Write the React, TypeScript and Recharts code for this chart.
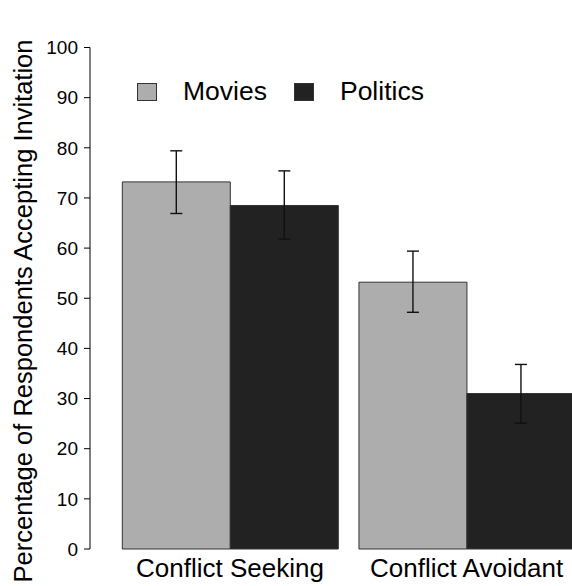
import React from 'react';
import { BarChart, Bar, XAxis, YAxis, ErrorBar, Legend, Label } from 'recharts';

const categories = ['Conflict Seeking', 'Conflict Avoidant'];
const moviesPct = [73.2, 53.2];
const politicsPct = [68.5, 31.0];
// [lower, upper] error around each bar
const moviesErr = [[6.3, 6.2], [6.0, 6.2]];
const politicsErr = [[6.7, 6.9], [5.9, 5.8]];
const yTicks = [0, 10, 20, 30, 40, 50, 60, 70, 80, 90, 100];

const FONT = '"Liberation Sans", Arial, Helvetica, sans-serif';
const MOVIES_FILL = '#adadad';
const POLITICS_FILL = '#222222';

const data = categories.map((name, i) => ({
    name,
    movies: moviesPct[i],
    politics: politicsPct[i],
    moviesErr: moviesErr[i],
    politicsErr: politicsErr[i],
}));

const renderLegend = (props: any) => {
    const payload = props.payload || [];
    return (
        <div style={{ display: 'flex', alignItems: 'center', fontFamily: FONT, fontSize: 26.5, color: '#000' }}>
            {payload.map((p: any, i: number) => (
                <div key={i} style={{ display: 'flex', alignItems: 'center', marginRight: i === 0 ? 27 : 0 }}>
                    <span
                        style={{
                            display: 'inline-block',
                            width: 18,
                            height: 16,
                            background: p.color,
                            border: '1px solid #333',
                            marginRight: 26,
                        }}
                    />
                    <span>{p.value}</span>
                </div>
            ))}
        </div>
    );
};

const renderYLabel = () => (
    <text
        x={32}
        y={311}
        transform="rotate(-90, 32, 311)"
        textAnchor="middle"
        fontSize={25.5}
        fontFamily={FONT}
        fill="#000"
    >
        Percentage of Respondents Accepting Invitation
    </text>
);

export default function App() {
    return (
        <div style={{ position: 'absolute', left: 0, top: 0, width: 572, height: 586, overflow: 'hidden', background: '#fff' }}>
            <BarChart
                width={600}
                height={586}
                data={data}
                margin={{ top: 47.5, right: 0, bottom: 0, left: 0 }}
                barGap={0}
                barCategoryGap={10.6}
            >
                <XAxis
                    dataKey="name"
                    height={37}
                    axisLine={false}
                    tickLine={false}
                    tickSize={0}
                    tickMargin={10}
                    interval={0}
                    padding={{ left: 21.7, right: 15 }}
                    tick={{ fontSize: 26, fill: '#000', fontFamily: FONT }}
                />
                <YAxis
                    width={90}
                    domain={[0, 100]}
                    ticks={yTicks}
                    interval={0}
                    tickSize={6}
                    tickMargin={6}
                    axisLine={{ stroke: '#000' }}
                    tickLine={{ stroke: '#000' }}
                    tick={{ fontSize: 19, fill: '#000', fontFamily: FONT }}
                >
                    <Label content={renderYLabel} />
                </YAxis>
                <Legend
                    layout="horizontal"
                    verticalAlign="middle"
                    align="center"
                    content={renderLegend}
                    wrapperStyle={{ top: 76, left: 137, width: 'auto' }}
                />
                <Bar dataKey="movies" name="Movies" fill={MOVIES_FILL} stroke="#333" strokeWidth={1} isAnimationActive={false}>
                    <ErrorBar dataKey="moviesErr" width={6} stroke="#111" strokeWidth={1.4} isAnimationActive={false} />
                </Bar>
                <Bar dataKey="politics" name="Politics" fill={POLITICS_FILL} stroke="#333" strokeWidth={1} isAnimationActive={false}>
                    <ErrorBar dataKey="politicsErr" width={6} stroke="#111" strokeWidth={1.4} isAnimationActive={false} />
                </Bar>
            </BarChart>
        </div>
    );
}
